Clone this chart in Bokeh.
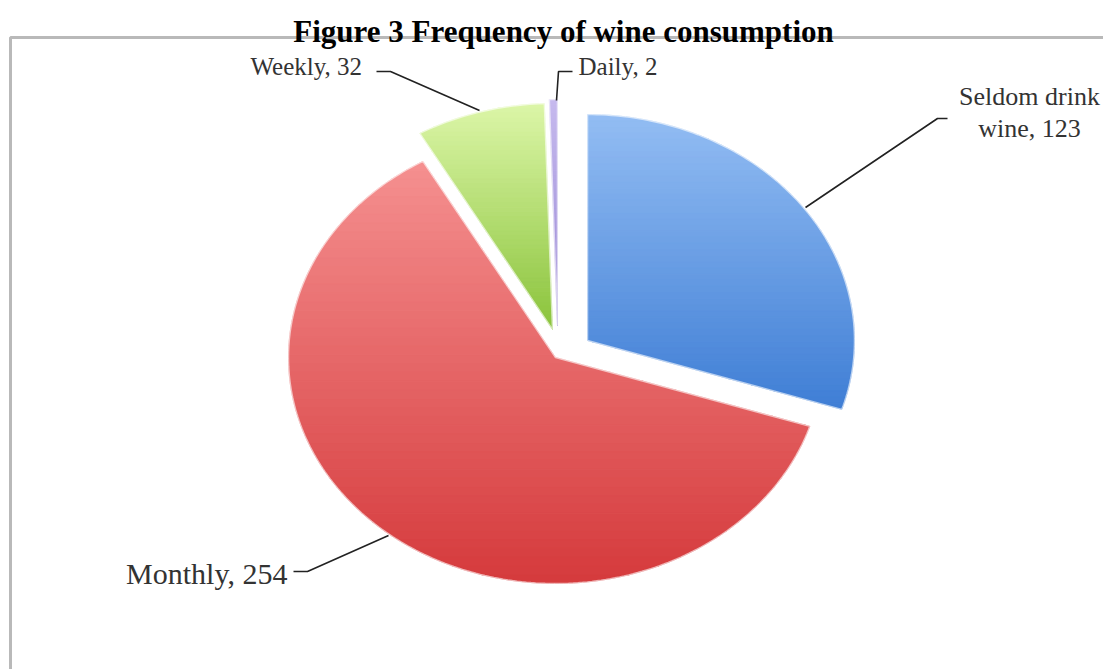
import numpy as np
from bokeh.plotting import figure
from bokeh.models import Range1d
from bokeh.core.properties import value
from bokeh.embed import file_html
from bokeh.resources import INLINE

# ---------------- data ----------------
categories = ["Seldom drink wine", "Monthly", "Weekly", "Daily"]
counts = [123, 254, 32, 2]
label_texts = ["Seldom drink\nwine, 123", "Monthly, 254", "Weekly, 32", "Daily, 2"]
title_text = "Figure 3 Frequency of wine consumption"

# ---------------- style / layout ----------------
W, H = 1103, 669
CX, CY = 565.0, 345.0          # pie centre (pixels, y down)
RX, RY = 267.0, 226.0          # elliptical radii (tilted look)
explode = [(22, -5), (-10, 12), (-13, -16), (-8, -20)]
top_cols = ["#93bdf3", "#f59090", "#dcf6a8", "#c6baee"]
bot_cols = ["#3f7ed5", "#d53a3c", "#8ac33b", "#9886d4"]
label_pos = [(1029, 112), (287, 573), (250, 66), (578, 66)]
label_align = ["center", "right", "left", "left"]
label_size = ["26px", "30px", "25px", "25px"]
leaders = [
    [(947, 118), (937, 118), (805, 207)],
    [(293, 571), (307, 571), (388, 535)],
    [(376, 71), (390, 71), (479, 110)],
    [(572, 71), (558, 71), (556, 100)],
]
N_BANDS = 48


def hex2rgb(h):
    h = h.lstrip("#")
    return np.array([int(h[i:i + 2], 16) for i in (0, 2, 4)], dtype=float)


def mix(c1, c2, t):
    c = hex2rgb(c1) * (1 - t) + hex2rgb(c2) * t
    return "#%02x%02x%02x" % tuple(int(round(v)) for v in c)


def clip_half(poly, yc, keep_greater):
    out = []
    n = len(poly)
    if n == 0:
        return out

    def inside(p):
        return p[1] >= yc if keep_greater else p[1] <= yc

    def inter(a, b):
        t = (yc - a[1]) / (b[1] - a[1])
        return (a[0] + t * (b[0] - a[0]), yc)

    for i in range(n):
        cur, prev = poly[i], poly[i - 1]
        ci, pi = inside(cur), inside(prev)
        if ci:
            if not pi:
                out.append(inter(prev, cur))
            out.append(cur)
        elif pi:
            out.append(inter(prev, cur))
    return out


# ---------------- geometry from data ----------------
total = float(sum(counts))
fracs = [c / total for c in counts]
starts = np.concatenate([[0.0], np.cumsum(fracs)[:-1]]) * 2 * np.pi
ends = np.cumsum(fracs) * 2 * np.pi

slice_polys = []
for i in range(len(counts)):
    cx = CX + explode[i][0]
    cy = CY + explode[i][1]
    n = max(4, int((ends[i] - starts[i]) / (2 * np.pi) * 360))
    th = np.linspace(starts[i], ends[i], n)
    xs = cx + RX * np.sin(th)
    ys = cy - RY * np.cos(th)
    poly = [(cx, cy)] + list(zip(xs, ys))
    slice_polys.append(poly)

band_xs, band_ys, band_cols = [], [], []
for i, poly in enumerate(slice_polys):
    ys_all = [p[1] for p in poly]
    y0, y1 = min(ys_all), max(ys_all)
    edges = np.linspace(y0, y1, N_BANDS + 1)
    for b in range(N_BANDS):
        part = clip_half(poly, edges[b], True)
        part = clip_half(part, edges[b + 1], False)
        if len(part) < 3:
            continue
        band_xs.append([p[0] for p in part])
        band_ys.append([p[1] for p in part])
        band_cols.append(mix(top_cols[i], bot_cols[i], (b + 0.5) / N_BANDS))

# ---------------- figure ----------------
p = figure(width=W, height=H, x_range=Range1d(0, W), y_range=Range1d(H, 0),
           output_backend="svg", toolbar_location=None, min_border=0)
p.axis.visible = False
p.xgrid.visible = False
p.ygrid.visible = False
p.outline_line_color = None
p.background_fill_color = "white"
p.border_fill_color = "white"

# chart area border (extends beyond the picture to the right and bottom)
p.line([10, 10, W + 10], [H + 10, 37, 37], line_color="#b9b9b9", line_width=3)

# gradient slices
p.patches(band_xs, band_ys, fill_color=band_cols, line_color=band_cols, line_width=1)
# soft white rim
p.patches([[q[0] for q in s] for s in slice_polys], [[q[1] for q in s] for s in slice_polys],
          fill_alpha=0, line_color="white", line_width=1.5, line_alpha=0.6)

# leader lines
p.multi_line([[q[0] for q in l] for l in leaders], [[q[1] for q in l] for l in leaders],
             line_color="#222222", line_width=1.6)

# labels
for i, t in enumerate(label_texts):
    p.text(x=[label_pos[i][0]], y=[label_pos[i][1]], text=[t],
           text_font=value("Liberation Serif"), text_font_size=label_size[i],
           text_color="#333333", text_align=label_align[i],
           text_baseline="middle" if i == 0 else "alphabetic",
           text_line_height=1.08)

# title
p.text(x=[563], y=[31], text=[title_text], text_font=value("Liberation Serif"),
       text_font_size="31px", text_font_style="bold", text_color="black",
       text_align="center", text_baseline="alphabetic")

open("out.html", "w").write(file_html(p, INLINE))
